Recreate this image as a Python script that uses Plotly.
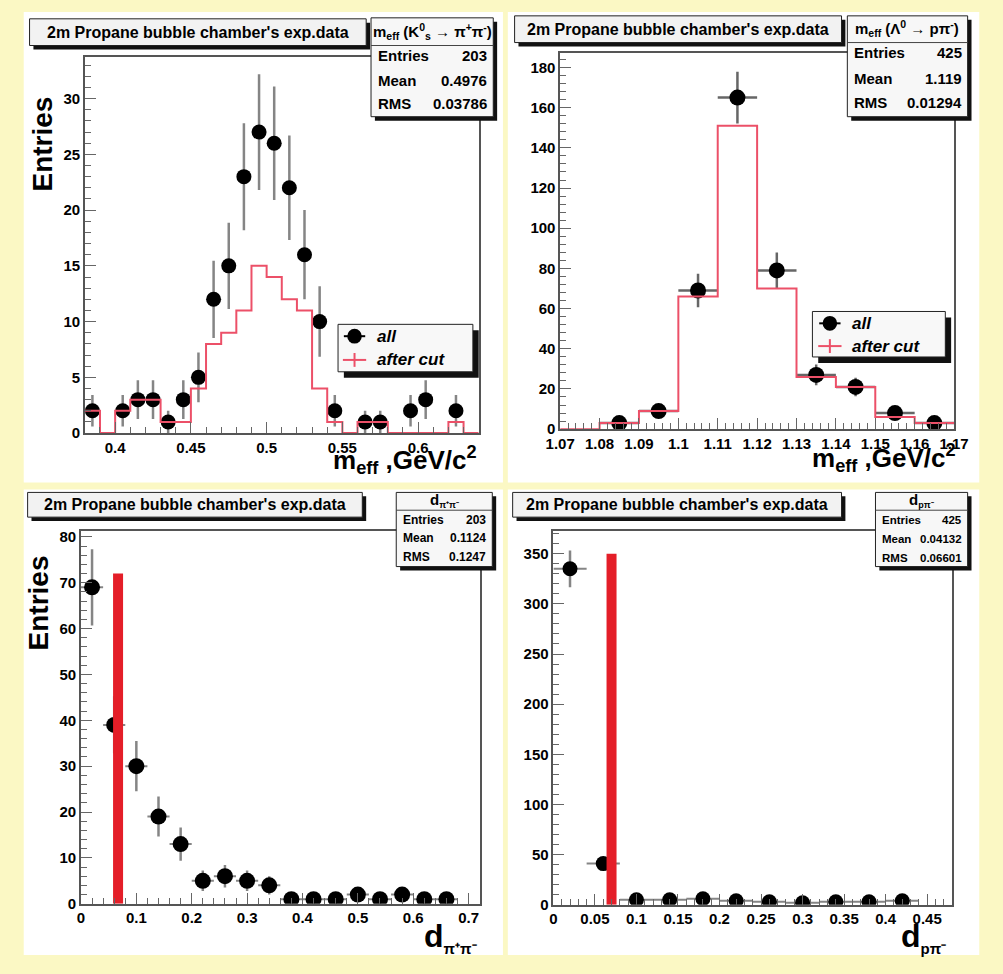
import numpy as np
import plotly.graph_objects as go

W, H = 1003, 974
FONT = "Liberation Sans, Arial, Helvetica, sans-serif"

# ---------------- data ----------------
# Top-left: m_eff (K0s -> pi+ pi-)
k_centers = [0.385, 0.405, 0.415, 0.425, 0.435, 0.445, 0.455, 0.465, 0.475, 0.485, 0.495,
             0.505, 0.515, 0.525, 0.535, 0.545, 0.565, 0.575, 0.595, 0.605, 0.625]
k_all = [2, 2, 3, 3, 1, 3, 5, 12, 15, 23, 27, 26, 22, 16, 10, 2, 1, 1, 2, 3, 2]
k_cut_lo, k_cut_w = 0.38, 0.01
k_cut = [2, 0, 2, 3, 3, 1, 1, 4, 8, 9, 11, 15, 14, 12, 11, 4, 1, 0, 1, 1, 0, 0, 0, 0, 1, 0]

# Top-right: m_eff (Lambda0 -> p pi-)
l_centers = [1.085, 1.095, 1.105, 1.115, 1.125, 1.135, 1.145, 1.155, 1.165]
l_all = [3, 9, 69, 165, 79, 27, 21, 8, 3]
l_cut_lo, l_cut_w = 1.07, 0.01
l_cut = [0, 3, 9, 66, 151, 70, 26, 21, 6, 3]

# Bottom-left: d_{pi+pi-}
dpp_centers = [0.02, 0.06, 0.10, 0.14, 0.18, 0.22, 0.26, 0.30, 0.34, 0.38, 0.42,
               0.46, 0.50, 0.54, 0.58, 0.62, 0.66]
dpp_all = [69, 39, 30, 19, 13, 5, 6, 5, 4, 1, 1, 1, 2, 1, 2, 1, 1]
dpp_cut_x, dpp_cut_h = [0.067, 0.067], [0, 72]

# Bottom-right: d_{p pi-}
dp_centers = [0.02, 0.06, 0.10, 0.14, 0.18, 0.22, 0.26, 0.30, 0.34, 0.38, 0.42]
dp_all = [335, 41, 5, 5, 6, 4, 3, 2, 3, 3, 4]
dp_cut_x, dp_cut_h = [0.07, 0.07], [0, 350]

title_text = "2m Propane bubble chamber's exp.data"
legend_names = ["all", "after cut"]
stats = {
    "tl": ("m<sub>eff</sub> (K<sup>0</sup><sub>s</sub> → π<sup>+</sup>π<sup>-</sup>)", ["203", "0.4976", "0.03786"]),
    "tr": ("m<sub>eff</sub> (Λ<sup>0</sup> → pπ<sup>-</sup>)", ["425", "1.119", "0.01294"]),
    "bl": ("d<sub><span style='font-size:9px'>π⁺π⁻</span></sub>", ["203", "0.1124", "0.1247"]),
    "br": ("d<sub><span style='font-size:9px'>pπ⁻</span></sub>", ["425", "0.04132", "0.06601"]),
}
stat_labels = ["Entries", "Mean", "RMS"]

# ---------------- helpers ----------------
def fx(p):
    return p / W

def fy(p):
    return 1 - p / H

shapes = []
annotations = []

def rect(x0, y0, x1, y1, fill, line_color=None, lw=0, layer="below"):
    shapes.append(dict(type="rect", xref="paper", yref="paper", x0=fx(x0), x1=fx(x1),
                       y0=fy(y1), y1=fy(y0), fillcolor=fill,
                       line=dict(color=line_color or fill, width=lw), layer=layer))

def seg(x0, y0, x1, y1, color="#222", lw=1):
    shapes.append(dict(type="line", xref="paper", yref="paper", x0=fx(x0), x1=fx(x1),
                       y0=fy(y0), y1=fy(y1), line=dict(color=color, width=lw), layer="above"))

def dot(cx, cy, d, color="black"):
    shapes.append(dict(type="circle", xref="paper", yref="paper", x0=fx(cx - d / 2), x1=fx(cx + d / 2),
                       y0=fy(cy + d / 2), y1=fy(cy - d / 2), fillcolor=color,
                       line=dict(color=color, width=0), layer="above"))

def text(x, y, s, size, xanchor="center", italic=False, angle=0, bold=True):
    annotations.append(dict(x=fx(x), y=fy(y), xref="paper", yref="paper", text=s,
                            showarrow=False, xanchor=xanchor, yanchor="middle", textangle=angle,
                            font=dict(family=FONT, size=size, color="black",
                                      weight="bold" if bold else "normal",
                                      style="italic" if italic else "normal")))

def shadow_box(x0, y0, x1, y1, fill, sh=4, layer="above"):
    rect(x0 + sh, y0 + sh, x1 + sh, y1 + sh, "#111111", layer=layer)
    rect(x0, y0, x1, y1, fill, "#222222", 1, layer=layer)

# pads (white on yellow)
for (x0, y0, x1, y1) in [(9, 9, 503, 485), (508, 9, 994, 485), (9, 492, 503, 963), (508, 492, 994, 963)]:
    rect(x0, y0, x1, y1, "white")

# ---------------- figure ----------------
fig = go.Figure()

frames = {
    "tl": (72, 55, 478, 435),
    "tr": (562, 51, 968, 431),
    "bl": (68, 534, 479, 911),
    "br": (555, 534, 966, 912),
}
axis_ids = {"tl": ("x", "y"), "tr": ("x2", "y2"), "bl": ("x3", "y3"), "br": ("x4", "y4")}
ranges = {
    "tl": ([0.38, 0.64], [0, 33.7], 0.05, 0.01, 5, 1, 0.4),
    "tr": ([1.07, 1.17], [0, 187], 0.01, 0.002, 20, 4, 1.07),
    "bl": ([0, 0.72], [0, 81.3], 0.1, 0.02, 10, 2, 0),
    "br": ([0, 0.48], [0, 372.7], 0.05, 0.01, 50, 10, 0),
}

def step_xy(lo, w, vals):
    edges = [round(lo + i * w, 6) for i in range(len(vals) + 1)]
    return edges, list(vals) + [vals[-1]]

RED = "#EC5068"
ERR = "#858585"

# TL
xa, ya = axis_ids["tl"]
fig.add_trace(go.Scatter(x=k_centers, y=k_all, mode="markers", name=legend_names[0], xaxis=xa, yaxis=ya,
                         marker=dict(symbol="circle", size=15, color="black"),
                         error_y=dict(type="data", array=list(np.sqrt(k_all)), color=ERR, thickness=2.5, width=0)))
ex, ey = step_xy(k_cut_lo, k_cut_w, k_cut)
fig.add_trace(go.Scatter(x=ex, y=ey, mode="lines", line=dict(shape="hv", color=RED, width=2),
                         name=legend_names[1], xaxis=xa, yaxis=ya))

# TR
xa, ya = axis_ids["tr"]
fig.add_trace(go.Scatter(x=l_centers, y=l_all, mode="markers", name=legend_names[0], xaxis=xa, yaxis=ya,
                         marker=dict(symbol="circle", size=16, color="black"),
                         error_y=dict(type="data", array=list(np.sqrt(l_all)), color="#666666", thickness=2.5, width=0),
                         error_x=dict(type="constant", value=l_cut_w / 2, color="#666666", thickness=2.5, width=0)))
ex, ey = step_xy(l_cut_lo, l_cut_w, l_cut)
fig.add_trace(go.Scatter(x=ex, y=ey, mode="lines", line=dict(shape="hv", color=RED, width=2),
                         name=legend_names[1], xaxis=xa, yaxis=ya))

# BL
xa, ya = axis_ids["bl"]
fig.add_trace(go.Scatter(x=dpp_centers, y=dpp_all, mode="markers", xaxis=xa, yaxis=ya,
                         marker=dict(symbol="circle", size=16, color="black"),
                         error_y=dict(type="data", array=list(np.sqrt(dpp_all)), color=ERR, thickness=2.5, width=0),
                         error_x=dict(type="constant", value=0.02, color=ERR, thickness=2, width=0)))
fig.add_trace(go.Scatter(x=dpp_cut_x, y=dpp_cut_h, mode="lines", xaxis=xa, yaxis=ya,
                         line=dict(color="#E41E28", width=10)))

# BR
xa, ya = axis_ids["br"]
fig.add_trace(go.Scatter(x=dp_centers, y=dp_all, mode="markers", xaxis=xa, yaxis=ya,
                         marker=dict(symbol="circle", size=15, color="black"),
                         error_y=dict(type="data", array=list(np.sqrt(dp_all)), color=ERR, thickness=2.5, width=0),
                         error_x=dict(type="constant", value=0.02, color=ERR, thickness=2, width=0)))
fig.add_trace(go.Scatter(x=dp_cut_x, y=dp_cut_h, mode="lines", xaxis=xa, yaxis=ya,
                         line=dict(color="#E41E28", width=10)))

# axes
layout_axes = {}
for key, (x0, y0, x1, y1) in frames.items():
    xa, ya = axis_ids[key]
    xr, yr, xd, xmd, yd_, ymd, xt0 = ranges[key]
    xname = "xaxis" + xa[1:]
    yname = "yaxis" + ya[1:]
    common = dict(showline=True, linecolor="#555555", linewidth=1.5, mirror=True,
                  ticks="inside", ticklen=11, tickwidth=1, tickcolor="#666666",
                  showgrid=False, zeroline=False,
                  tickfont=dict(family=FONT, size=15, color="black", weight="bold"))
    layout_axes[xname] = dict(common, domain=[fx(x0), fx(x1)], range=xr, anchor=ya,
                              tick0=xt0, dtick=xd,
                              minor=dict(ticks="inside", ticklen=6, tickcolor="#666666", dtick=xmd, tick0=xt0, showgrid=False))
    layout_axes[yname] = dict(common, domain=[fy(y1), fy(y0)], range=yr, anchor=xa,
                              tick0=0, dtick=yd_,
                              minor=dict(ticks="inside", ticklen=6, tickcolor="#666666", dtick=ymd, tick0=0, showgrid=False))

# title boxes
for (x0, y0, x1, y1) in [(15, 16, 362, 43), (515, 13, 852, 40), (13, 495, 358, 520), (513, 495, 852, 520)]:
    shadow_box(x0, y0, x1, y1, "#F2F2F2", sh=4)
    text((x0 + x1) / 2, (y0 + y1) / 2, title_text, 16)

# stats boxes
stat_geo = {
    "tl": ((367, 15, 493, 115), 29, 43, [53, 78, 102], 15, 15),
    "tr": ((858, 13, 982, 115), 26, 40, [50, 76, 101], 15, 15),
    "bl": ((393, 495, 492, 570), 503, 513, [523, 541, 560], 15, 12),
    "br": ((887, 495, 982, 570), 503, 513, [523, 542, 561], 15, 11.5),
}
for key, ((x0, y0, x1, y1), hy, sy, rows, hsize, rsize) in stat_geo.items():
    shadow_box(x0, y0, x1, y1, "#F7F7F7", sh=4)
    seg(x0, sy, x1, sy, "#444444", 1)
    head, vals = stats[key]
    text((x0 + x1) / 2, hy, head, hsize)
    for lab, val, ry in zip(stat_labels, vals, rows):
        text(x0 + 5, ry, lab, rsize, xanchor="left")
        text(x1 - 4, ry, val, rsize, xanchor="right")

# legend boxes (manual legends)
def legend_box(x0, y0, x1, y1, sx, sy1, sy2, tx):
    shadow_box(x0, y0, x1, y1, "#F8F8F8", sh=6)
    seg(sx - 11, sy1, sx + 11, sy1, "black", 2)
    dot(sx, sy1, 15)
    seg(sx - 12, sy2, sx + 12, sy2, RED, 2)
    seg(sx, sy2 - 7, sx, sy2 + 7, RED, 2)
    text(tx, sy1, legend_names[0], 17, xanchor="left", italic=True)
    text(tx, sy2, legend_names[1], 17, xanchor="left", italic=True)

legend_box(333, 325, 472, 373, 350, 337, 361, 371)
legend_box(822, 312, 959, 358, 840, 324, 347, 861)

# axis titles
text(28, 143, "Entries", 28, angle=-90)
text(24, 607, "Entries", 28, angle=-90)
text(478, 462, "m<sub>eff</sub> ,GeV/c<sup>2</sup>", 26, xanchor="right")
text(972, 460, "m<sub>eff</sub> ,GeV/c<sup>2</sup>", 26, xanchor="right")
text(478, 945, "d<sub><span style='font-size:15px'>π⁺π⁻</span></sub>", 32, xanchor="right")
text(962, 945, "d<sub><span style='font-size:15px'>pπ⁻</span></sub>", 32, xanchor="right")

fig.update_traces(showlegend=False)
fig.update_layout(
    width=W, height=H, autosize=False,
    margin=dict(l=0, r=0, t=0, b=0),
    paper_bgcolor="#FBF8C4", plot_bgcolor="white",
    shapes=shapes, annotations=annotations,
    showlegend=False,
    **layout_axes,
)

fig.write_html("out.html")
